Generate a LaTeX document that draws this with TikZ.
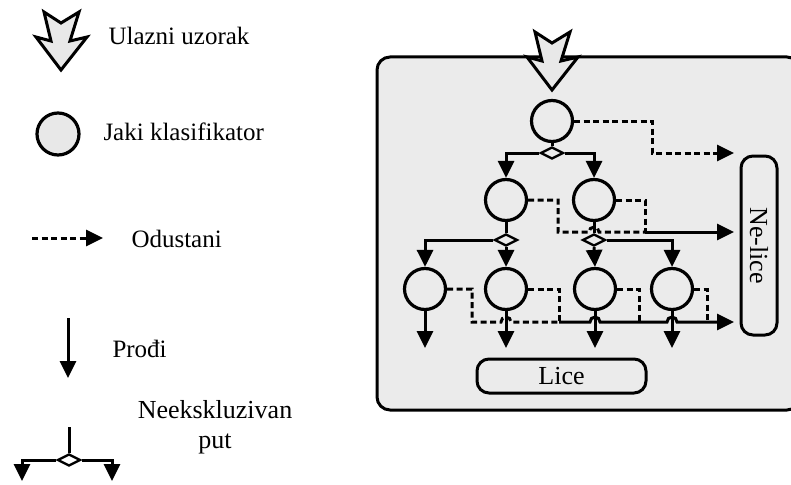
\documentclass[tikz,border=0pt]{standalone}
\usepackage{fontspec}
\setmainfont{Liberation Serif}
\usetikzlibrary{arrows.meta,shapes.geometric}
\definecolor{boxgray}{HTML}{EBEBEB}
\definecolor{arrowgray}{HTML}{E8E8E8}
\begin{document}
\begin{tikzpicture}[x=1pt,y=-1pt,
  line width=3pt,
  tip/.style={-{Triangle[length=17pt,width=16pt]}},
  dsh/.style={dash pattern=on 6pt off 3.5pt},
  clf/.style={circle,draw,fill=boxgray,minimum size=41pt,inner sep=0pt,line width=3.2pt},
  dmd/.style={diamond,draw,fill=boxgray,minimum width=23pt,minimum height=12pt,inner sep=0pt,line width=2.4pt},
  lbl/.style={font=\fontsize{25}{28}\selectfont,inner sep=0pt},
  bigarrow/.pic={\draw[line width=3pt,fill=arrowgray,line join=miter]
     (-17,0) -- (0,11) -- (18,0) -- (9,29) -- (26,25) -- (0,58) -- (-25,25) -- (-10,29) -- cycle;}
]
\useasboundingbox (0,0) rectangle (791,484);

% ---------- legend ----------
\pic at (61,12) {bigarrow};
\node[lbl,anchor=base west] (t1) at (107,45) {Ulazni uzorak};

\node[circle,draw,fill=arrowgray,minimum size=42pt,inner sep=0pt,line width=3.2pt] (lc) at (58,134) {};
\node[lbl,anchor=base west] (t2) at (102,140) {Jaki klasifikator};

\coordinate (la1) at (32,238);
\coordinate (la2) at (103,238);
\draw[dsh,tip] (la1) -- (la2);
\node[lbl,anchor=base west] (t3) at (130,247) {Odustani};

\coordinate (lp1) at (68,318);
\coordinate (lp2) at (68,378);
\draw[tip] (lp1) -- (lp2);
\node[lbl,anchor=base west] (t4) at (111,357) {Prođi};

\coordinate (ln1) at (69,427);
\node[dmd,fill=white] (ld) at (69,460) {};
\coordinate (ln2) at (22,481);
\coordinate (ln3) at (112,481);
\draw (ln1) -- (ld.north);
\draw[tip] (ld.west) -| (ln2);
\draw[tip] (ld.east) -| (ln3);
\node[font=\fontsize{26}{30}\selectfont,align=center,inner sep=0pt,anchor=base] (t5) at (215,448) {Neekskluzivan\\put};

% ---------- main box ----------
\draw[line width=3pt,fill=boxgray,rounded corners=13pt] (377,57) rectangle (800,410);
\pic at (552,32) {bigarrow};

\node[clf] (c0) at (552,121) {};
\node[clf] (c1) at (506,200) {};
\node[clf] (c2) at (594,200) {};
\node[clf] (c3) at (425,289) {};
\node[clf] (c4) at (506,289) {};
\node[clf] (c5) at (595,289) {};
\node[clf] (c6) at (672,289) {};

\node[dmd] (d0) at (552,153) {};
\node[dmd] (d1) at (506,240) {};
\node[dmd] (d2) at (594,240) {};

\node[draw,rounded corners=12pt,minimum width=179pt,minimum height=36pt,line width=3pt,
      rotate=-90,font=\fontsize{26}{30}\selectfont,inner sep=0pt] (nl) at (759,245.5) {Ne-lice};
\node[draw,rounded corners=12pt,minimum width=169pt,minimum height=34pt,line width=3pt,
      font=\fontsize{26}{30}\selectfont,inner sep=0pt] (li) at (561.5,376) {Lice};

% pass connectors
\draw (c0.south) -- (d0.north);
\draw[tip] (d0.west) -| (c1.north);
\draw[tip] (d0.east) -| (c2.north);
\draw (c1.south) -- (d1.north);
\draw[tip] (d1.west) -| (c3.north);
\draw[tip] (d1.south) -- (c4.north);
\draw (c2.south) -- (d2.north);
\draw[tip] (d2.south) -- (c5.north);
\draw[tip] (d2.east) -| (c6.north);

\coordinate (o3) at (425,348);
\coordinate (o4) at (506,348);
\coordinate (o5) at (595,348);
\coordinate (o6) at (672,348);
\draw[tip] (c3.south) -- (o3);
\draw[tip] (c4.south) -- (o4);
\draw[tip] (c5.south) -- (o5);
\draw[tip] (c6.south) -- (o6);

% reject connectors
\coordinate (n1) at (734,153);
\coordinate (n2) at (734,232);
\coordinate (n3) at (734,322);

\coordinate (j0) at (652,153);
\draw[dsh,tip] (c0.east) -| (j0) -- (n1);

\coordinate (j1) at (558,232);
\coordinate (j2) at (645,232);
\coordinate (h1) at (589,232);
\draw[dsh] (c1.east) -| (j1) -- (h1) arc[start angle=180,end angle=0,radius=5pt] -- (j2);
\draw[dsh] (c2.east) -| (j2);
\draw[tip] (j2) -- (n2);

\coordinate (j3) at (472,322);
\coordinate (j4) at (559,322);
\coordinate (j5) at (639,322);
\coordinate (j6) at (707,322);
\coordinate (h3) at (501,322);
\coordinate (h5) at (590,322);
\coordinate (h6) at (667,322);
\draw[dsh] (c3.east) -| (j3) -- (h3) arc[start angle=180,end angle=0,radius=5pt] -- (j4);
\draw[dsh] (c4.east) -| (j4);
\draw[tip] (j4) -- (h5) arc[start angle=180,end angle=0,radius=5pt] -- (h6) arc[start angle=180,end angle=0,radius=5pt] -- (n3);
\draw[dsh] (c5.east) -| (j5);
\draw[dsh] (c6.east) -| (j6);
\end{tikzpicture}
\end{document}
